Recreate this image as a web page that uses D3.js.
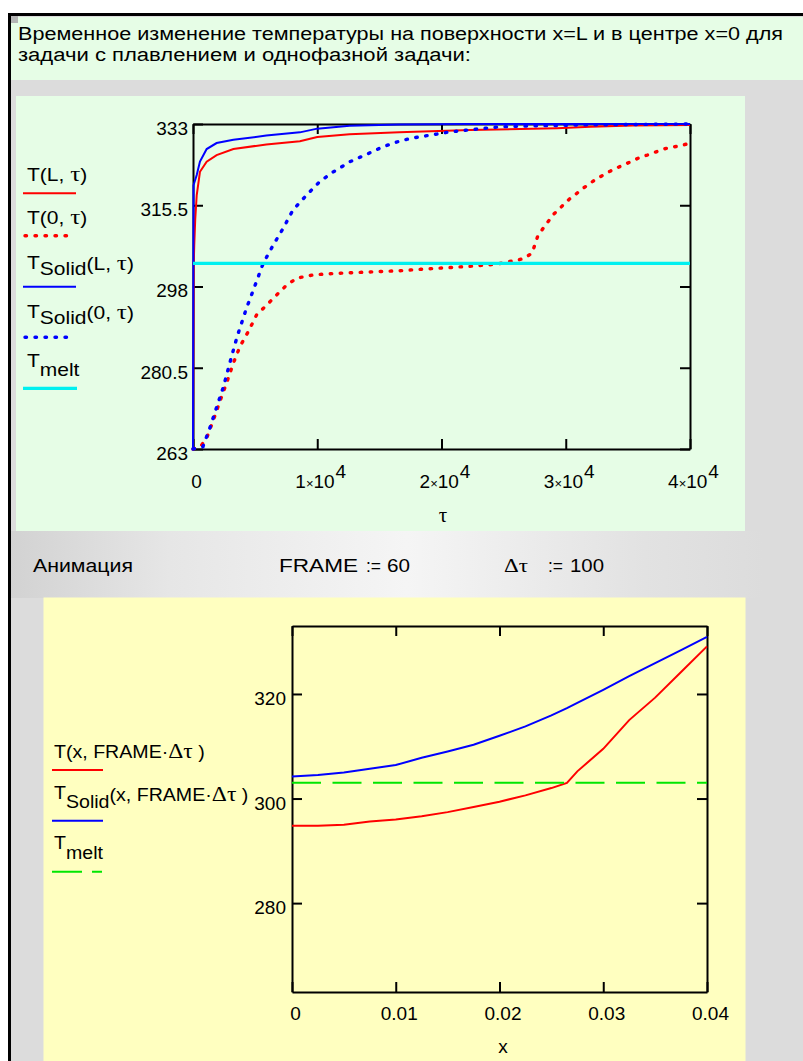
<!DOCTYPE html>
<meta charset="utf-8">
<style>
body { margin: 0; background: #fff; }
svg { display: block; font-family: "Liberation Sans", Arial, sans-serif; }
.axis path, .axis line { stroke: #000; stroke-width: 2px; }
.axis text { font-size: 19px; fill: #000; font-family: "Liberation Sans", Arial, sans-serif; }
.trace { fill: none; }
</style>
<svg width="803" height="1061"></svg>
<script src="https://d3js.org/d3.v7.min.js"></script>
<script>

// ---------- top chart: temperature vs time ----------
var tauTicks = [0, 1e4, 2e4, 3e4, 4e4];
var tempTicksTop = [263, 280.5, 298, 315.5, 333];

// T(L,tau) - surface, melting problem
var tauSurf  = [0, 60, 100, 180, 300, 560, 1100, 1900, 3250, 5900, 8600, 10000, 12600, 16600, 22300, 29300, 32000, 35400, 40000];
var tempSurf = [263, 303, 306.9, 312.5, 317.7, 322.7, 324.9, 326.3, 327.6, 328.6, 329.3, 330.2, 330.8, 331.2, 331.7, 332.1, 332.4, 332.7, 332.8];

// T(0,tau) - centre, melting problem
var tauCenter  = [0, 600, 1100, 1650, 2170, 2700, 3250, 3780, 4450, 5120, 5930, 6740, 7540, 8350, 9690, 11300, 16660, 18300, 22000, 24450, 25240, 26050, 26660, 27300, 27500, 27740, 28170, 28530, 29040, 29470, 29850, 30280, 30820, 31300, 31870, 32400, 33090, 33620, 34160, 34770, 35390, 35980, 36560, 37180, 37850, 38530, 39240, 40000];
var tempCenter = [263, 263.5, 265.4, 269.3, 273.3, 277.2, 281.5, 285.1, 288.3, 291.9, 294.0, 296.2, 298.3, 299.8, 300.5, 300.8, 301.4, 301.7, 302.3, 302.8, 303.3, 303.6, 304.1, 305.2, 306.9, 308.8, 310.5, 311.8, 313.6, 314.7, 315.7, 316.8, 317.9, 319.0, 320.0, 321.1, 322.1, 322.9, 323.6, 324.3, 325.1, 325.8, 326.3, 326.9, 327.6, 328.0, 328.3, 328.9];

// T_Solid(L,tau) - surface, one-phase problem
var tauSolidSurf  = [0, 40, 300, 560, 1100, 1900, 3250, 5900, 8600, 10000, 12600, 16600, 22000, 40000];
var tempSolidSurf = [263, 319.8, 322.0, 324.9, 327.6, 328.9, 329.6, 330.5, 331.2, 332.0, 332.6, 332.9, 333, 333];

// T_Solid(0,tau) - centre, one-phase problem
var tauSolidCenter  = [0, 800, 1350, 1900, 2450, 3000, 3550, 4300, 4850, 5650, 6450, 7250, 8050, 9150, 10200, 11300, 12650, 14000, 15300, 16500, 17500, 19100, 20700, 22800, 24700, 27400, 31400, 40000];
var tempSolidCenter = [263, 263.5, 267.5, 272.0, 276.4, 281.9, 287.2, 293.3, 297.2, 303.0, 306.9, 310.5, 314.5, 317.7, 320.6, 322.7, 324.9, 326.5, 328.1, 329.2, 329.9, 330.6, 331.3, 331.9, 332.4, 332.6, 332.8, 333];

var tMelt = 303;

// ---------- bottom chart: profile at FRAME*dtau ----------
var xTicks = [0, 0.01, 0.02, 0.03, 0.04];
var tempTicksBottom = [280, 300, 320];
var xPos = [0, 0.0025, 0.005, 0.0075, 0.01, 0.0125, 0.015, 0.0175, 0.02, 0.0225, 0.025, 0.0265, 0.0275, 0.03, 0.0325, 0.035, 0.0375, 0.04];
var tempFrame      = [294.8, 294.8, 295.0, 295.6, 296.0, 296.6, 297.4, 298.4, 299.4, 300.6, 302.0, 303.0, 305.2, 309.5, 315.0, 319.3, 324.2, 329.1];
var tempSolidFrame = [304.2, 304.5, 305.0, 305.7, 306.4, 307.8, 309.0, 310.3, 312.0, 313.8, 315.9, 317.3, 318.3, 320.8, 323.4, 325.9, 328.4, 330.9];

var svg = d3.select("svg");

// ---------- worksheet background ----------
var defs = svg.append("defs");
var grad = defs.append("linearGradient").attr("id", "strip");
[[0, "#d2d2d2"], [0.2, "#e6e6e6"], [0.5, "#f5f5f5"], [0.8, "#e2e2e2"], [0.95, "#dcdcdc"]].forEach(function(s) {
  grad.append("stop").attr("offset", s[0]).attr("stop-color", s[1]);
});

svg.append("rect").attr("x", 8).attr("y", 14).attr("width", 795).attr("height", 1047).attr("fill", "#dcdcdc");
svg.append("rect").attr("x", 11).attr("y", 531).attr("width", 792).attr("height", 67).attr("fill", "url(#strip)");
svg.append("rect").attr("x", 11).attr("y", 17).attr("width", 792).attr("height", 63).attr("fill", "#e6fde6");
svg.append("rect").attr("x", 11).attr("y", 15).attr("width", 7).attr("height", 8).attr("fill", "#b4b4b4");
svg.append("rect").attr("x", 16).attr("y", 96).attr("width", 729).attr("height", 435).attr("fill", "#e6fde6");
svg.append("rect").attr("x", 43.5).attr("y", 597.5).attr("width", 702).attr("height", 463.5).attr("fill", "#ffffc0");
svg.append("path").attr("d", "M9.5,1061V14.5H803").attr("fill", "none").attr("stroke", "#000").attr("stroke-width", 3);

// Mathcad text is drawn a bit wider than plain Arial
function mtext(parent, x, y, parts, size, sx) {
  var t = parent.append("text")
    .attr("transform", "translate(" + x + "," + y + ") scale(" + sx + ",1)")
    .attr("font-size", size);
  parts.forEach(function(p) {
    var s = t.append("tspan").text(p.t);
    if (p.dy) s.attr("dy", p.dy);
    if (p.serif) s.attr("font-family", "'Liberation Serif', serif").attr("font-size", size * 1.2);
  });
  return t;
}
function fitText(x, y, str, len, size, serif) {
  return svg.append("text").attr("x", x).attr("y", y).attr("font-size", size)
    .attr("textLength", len).attr("lengthAdjust", "spacingAndGlyphs")
    .attr("font-family", serif ? "'Liberation Serif', serif" : null)
    .text(str);
}

fitText(18, 39.5, "Временное изменение температуры на поверхности x=L и в центре x=0 для", 765, 18);
fitText(18, 60.5, "задачи с плавлением и однофазной задачи:", 453, 18);

fitText(33, 571.5, "Анимация", 100, 17.5);
fitText(279, 571.5, "FRAME", 79, 17.5);
fitText(366, 571.5, ":=", 15, 17.5);
fitText(387, 571.5, "60", 23, 17.5);
fitText(504, 571.5, "Δτ", 24, 19, true);
fitText(548, 571.5, ":=", 15, 17.5);
fitText(570, 571.5, "100", 34, 17.5);

// ---------- top chart ----------
var x1 = d3.scaleLinear().domain([0, 4e4]).range([193, 690]);
var y1 = d3.scaleLinear().domain([263, 333]).range([449, 124]);
var g1 = svg.append("g");

g1.append("g").attr("class", "axis").attr("transform", "translate(0,124)")
  .call(d3.axisTop(x1).tickValues(tauTicks).tickSize(-10).tickSizeOuter(0).tickFormat(""));
g1.append("g").attr("class", "axis").attr("transform", "translate(690,0)")
  .call(d3.axisRight(y1).tickValues(tempTicksTop).tickSize(-10).tickSizeOuter(0).tickFormat(""));
g1.append("g").attr("class", "axis").attr("transform", "translate(0,449)")
  .call(d3.axisBottom(x1).tickValues(tauTicks).tickSize(-10).tickSizeOuter(0).tickPadding(26))
  .selectAll(".tick text").attr("dx", 3).each(function(d) {
    var t = d3.select(this).text("");
    if (d === 0) { t.text("0"); return; }
    t.append("tspan").text(d / 1e4);
    t.append("tspan").attr("font-size", "13px").text("×");
    t.append("tspan").text("10");
    t.append("tspan").attr("dy", -10).attr("dx", 1).text("4");
  });
g1.append("g").attr("class", "axis").attr("transform", "translate(193,0)")
  .call(d3.axisLeft(y1).tickValues(tempTicksTop).tickSize(-10).tickSizeOuter(0).tickPadding(5)
    .tickFormat(function(d) { return d; }))
  .selectAll(".tick text").attr("dy", "0.55em");

g1.append("text").attr("x", 443).attr("y", 522).attr("text-anchor", "middle")
  .attr("font-size", 21).attr("font-family", "'Liberation Serif', serif").text("τ");

var line1 = d3.line().x(function(d) { return x1(d[0]); }).y(function(d) { return y1(d[1]); });
var dotted = "1.5,8.5";

g1.append("path").datum(d3.zip(tauSurf, tempSurf)).attr("class", "trace").attr("d", line1)
  .attr("stroke", "#ff0000").attr("stroke-width", 2);
g1.append("path").datum(d3.zip(tauCenter, tempCenter)).attr("class", "trace").attr("d", line1)
  .attr("stroke", "#ff0000").attr("stroke-width", 3.4).attr("stroke-dasharray", dotted).attr("stroke-linecap", "round");
g1.append("path").datum(d3.zip(tauSolidSurf, tempSolidSurf)).attr("class", "trace").attr("d", line1)
  .attr("stroke", "#0000ff").attr("stroke-width", 2);
g1.append("path").datum(d3.zip(tauSolidCenter, tempSolidCenter)).attr("class", "trace").attr("d", line1)
  .attr("stroke", "#0000ff").attr("stroke-width", 3.4).attr("stroke-dasharray", dotted).attr("stroke-linecap", "round");
g1.append("path").datum(x1.domain().map(function(t) { return [t, tMelt]; })).attr("class", "trace").attr("d", line1)
  .attr("stroke", "#00f0f0").attr("stroke-width", 3.3);

// legend (top)
var leg1 = svg.append("g");
mtext(leg1, 27, 181, [{t: "T(L, "}, {t: "τ", serif: true}, {t: ")"}], 17.5, 1.2);
mtext(leg1, 27, 223.5, [{t: "T(0, "}, {t: "τ", serif: true}, {t: ")"}], 17.5, 1.2);
mtext(leg1, 27, 269, [{t: "T"}, {t: "Solid", dy: 6}, {t: "(L, ", dy: -5}, {t: "τ", serif: true}, {t: ")"}], 17.5, 1.2);
mtext(leg1, 27, 318, [{t: "T"}, {t: "Solid", dy: 6}, {t: "(0, ", dy: -5}, {t: "τ", serif: true}, {t: ")"}], 17.5, 1.2);
mtext(leg1, 27, 367, [{t: "T"}, {t: "melt", dy: 9}], 17.5, 1.2);
leg1.append("line").attr("x1", 23).attr("x2", 76).attr("y1", 193.3).attr("y2", 193.3).attr("stroke", "#ff0000").attr("stroke-width", 2);
leg1.append("line").attr("x1", 25).attr("x2", 70).attr("y1", 235.7).attr("y2", 235.7).attr("stroke", "#ff0000").attr("stroke-width", 3.4).attr("stroke-dasharray", dotted).attr("stroke-linecap", "round");
leg1.append("line").attr("x1", 23).attr("x2", 76).attr("y1", 286.7).attr("y2", 286.7).attr("stroke", "#0000ff").attr("stroke-width", 2);
leg1.append("line").attr("x1", 25).attr("x2", 70).attr("y1", 337.3).attr("y2", 337.3).attr("stroke", "#0000ff").attr("stroke-width", 3.4).attr("stroke-dasharray", dotted).attr("stroke-linecap", "round");
leg1.append("line").attr("x1", 23).attr("x2", 77).attr("y1", 388.3).attr("y2", 388.3).attr("stroke", "#00f0f0").attr("stroke-width", 3.3);

// ---------- bottom chart ----------
var x2 = d3.scaleLinear().domain([0, 0.04]).range([292, 707]);
var y2 = d3.scaleLinear().domain([263, 333]).range([992, 626]);
var g2 = svg.append("g");

g2.append("g").attr("class", "axis").attr("transform", "translate(0,626)")
  .call(d3.axisTop(x2).tickValues(xTicks).tickSize(-10).tickSizeOuter(0).tickFormat(""));
g2.append("g").attr("class", "axis").attr("transform", "translate(707,0)")
  .call(d3.axisRight(y2).tickValues(tempTicksBottom).tickSize(-10).tickSizeOuter(0).tickFormat(""));
g2.append("g").attr("class", "axis").attr("transform", "translate(0,992)")
  .call(d3.axisBottom(x2).tickValues(xTicks).tickSize(-10).tickSizeOuter(0).tickPadding(14.5)
    .tickFormat(function(d) { return d; }))
  .selectAll(".tick text").attr("dx", 3);
g2.append("g").attr("class", "axis").attr("transform", "translate(292,0)")
  .call(d3.axisLeft(y2).tickValues(tempTicksBottom).tickSize(-10).tickSizeOuter(0).tickPadding(6))
  .selectAll(".tick text").attr("dy", "0.57em");

g2.append("text").attr("x", 503).attr("y", 1052.5).attr("text-anchor", "middle")
  .attr("font-size", 19).text("x");

var line2 = d3.line().x(function(d) { return x2(d[0]); }).y(function(d) { return y2(d[1]); });
g2.append("path").datum(d3.zip(xPos, tempFrame)).attr("class", "trace").attr("d", line2)
  .attr("stroke", "#ff0000").attr("stroke-width", 2);
g2.append("path").datum(d3.zip(xPos, tempSolidFrame)).attr("class", "trace").attr("d", line2)
  .attr("stroke", "#0000ff").attr("stroke-width", 2);
g2.append("path").datum(x2.domain().map(function(v) { return [v, tMelt]; })).attr("class", "trace").attr("d", line2)
  .attr("stroke", "#00e600").attr("stroke-width", 2).attr("stroke-dasharray", "29,11.5");

// legend (bottom)
var leg2 = svg.append("g");
mtext(leg2, 54, 757.5, [{t: "T(x, FRAME·"}, {t: "Δτ", serif: true}, {t: "  )"}], 17.5, 1.12);
mtext(leg2, 54, 799, [{t: "T"}, {t: "Solid", dy: 9}, {t: "(x, FRAME·", dy: -7}, {t: "Δτ", serif: true}, {t: "  )"}], 17.5, 1.12);
mtext(leg2, 54, 849, [{t: "T"}, {t: "melt", dy: 10}], 17.5, 1.12);
leg2.append("line").attr("x1", 52).attr("x2", 103).attr("y1", 770).attr("y2", 770).attr("stroke", "#ff0000").attr("stroke-width", 2);
leg2.append("line").attr("x1", 52).attr("x2", 103).attr("y1", 820.7).attr("y2", 820.7).attr("stroke", "#0000ff").attr("stroke-width", 2);
leg2.append("line").attr("x1", 52).attr("x2", 102).attr("y1", 871.7).attr("y2", 871.7).attr("stroke", "#00e600").attr("stroke-width", 2).attr("stroke-dasharray", "30,10");

</script>
